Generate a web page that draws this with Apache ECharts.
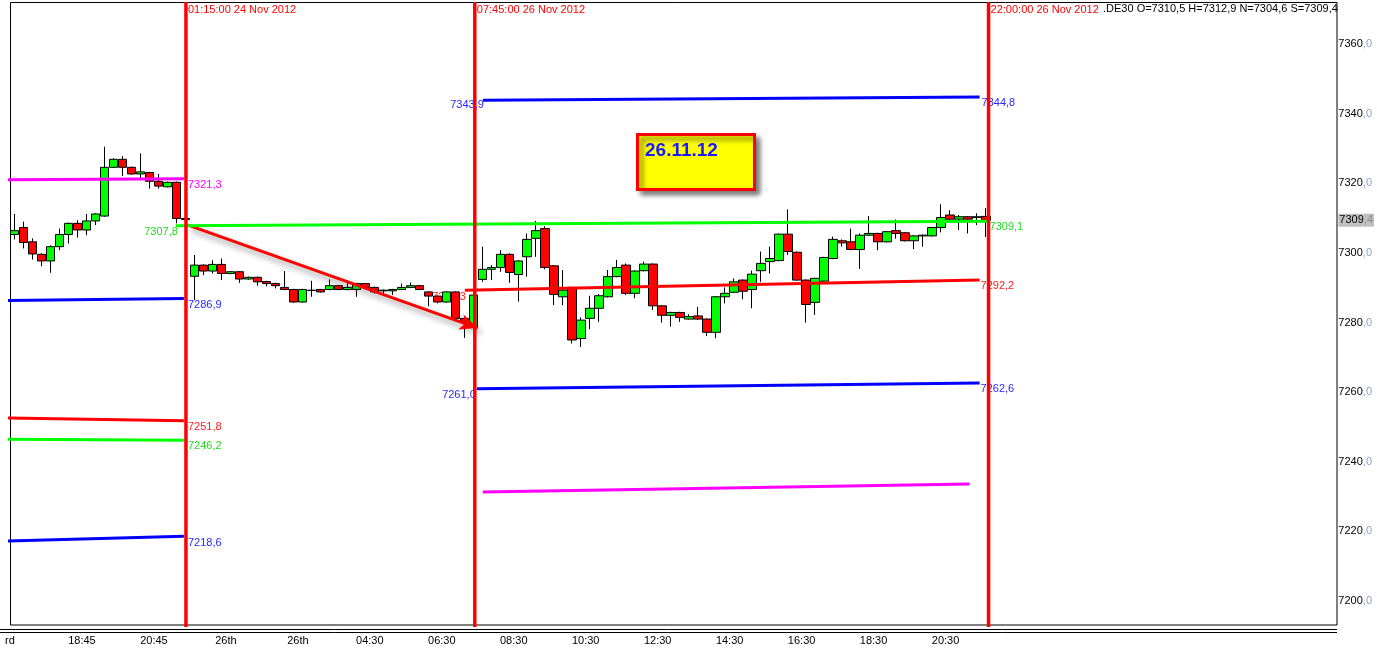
<!DOCTYPE html>
<html><head><meta charset="utf-8">
<script src="https://cdn.jsdelivr.net/npm/echarts@6/dist/echarts.min.js"></script>
<style>html,body{margin:0;padding:0;background:#fff}#c{width:1377px;height:649px}</style>
</head><body><div id="c"></div>
<script>
// ---- candle data (15 min bars), one entry per slot ----
const opens  = [7305.3,7307.3,7303.2,7299.6,7297.7,7301.8,7305.3,7308.5,7306.6,7309.2,7310.6,7324.6,7326.9,7324.6,7322.7,7323.1,7320.6,7319.0,7320.3,7309.9,
 7293.3,7296.5,7294.8,7296.7,7294.1,7294.6,7292.5,7293.0,7291.8,7291.2,7290.1,7289.5,7285.9,7289.3,7289.5,7289.5,7290.6,7289.5,7289.5,7291.2,
 7290.1,7289.1,7289.1,7289.5,7290.1,7290.6,7288.8,7287.6,7285.9,7288.8,7281.2,7278.8,7292.4,7295.3,7295.8,7299.6,7293.8,7298.9,7304.2,7307.0,
 7296.3,7287.4,7290.1,7275.4,7281.2,7284.1,7287.4,7293.2,7296.5,7288.4,7294.9,7296.8,7284.8,7282.1,7282.9,7281.0,7281.9,7281.0,7277.2,7287.4,
 7288.7,7292.2,7289.5,7294.9,7297.5,7297.8,7305.4,7300.2,7292.2,7285.8,7291.9,7298.4,7303.5,7303.2,7301.0,7305.1,7305.6,7303.2,7306.4,7305.8,
 7303.5,7304.9,7304.9,7307.3,7310.9,7309.7,7310.4,7310.2,7310.5];
const closes = [7306.4,7303.0,7299.7,7297.7,7301.8,7305.3,7308.5,7306.6,7309.2,7311.2,7324.6,7326.9,7324.6,7322.7,7323.3,7320.6,7319.2,7320.3,7309.9,7309.6,
 7296.5,7294.8,7296.7,7294.1,7294.6,7292.5,7293.0,7291.7,7291.2,7290.6,7289.5,7285.9,7289.5,7289.2,7288.8,7290.6,7289.5,7290.1,7291.2,7290.1,
 7288.8,7289.3,7289.5,7290.1,7290.6,7289.5,7287.6,7285.9,7288.8,7281.2,7280.2,7287.9,7295.3,7295.8,7299.6,7294.4,7297.7,7303.9,7306.4,7295.8,
 7288.1,7289.3,7275.0,7280.7,7284.1,7287.7,7293.2,7295.8,7288.4,7294.8,7296.8,7284.8,7282.1,7282.9,7281.5,7281.7,7281.0,7277.2,7287.4,7288.4,
 7291.7,7289.0,7293.9,7297.0,7298.4,7305.4,7300.4,7292.2,7285.2,7292.7,7298.7,7303.9,7302.9,7301.0,7305.1,7305.6,7303.2,7306.1,7305.6,7303.5,
 7304.9,7305.1,7307.3,7310.2,7309.7,7310.4,7309.7,7310.4,7309.4];
const lows   = [7303.9,7301.3,7298.1,7296.2,7294.3,7300.8,7302.7,7304.4,7305.1,7308.0,7310.4,7324.4,7322.1,7322.5,7320.9,7318.5,7318.5,7318.8,7308.5,7309.0,
 7286.5,7293.6,7294.1,7292.2,7293.9,7291.4,7292.3,7290.6,7290.4,7289.8,7289.3,7285.7,7285.7,7287.4,7288.6,7289.3,7289.3,7289.3,7287.4,7289.9,
 7288.3,7288.3,7287.9,7289.3,7289.9,7289.3,7284.7,7285.5,7285.7,7280.7,7275.6,7278.6,7291.7,7292.2,7294.6,7291.4,7286.0,7293.2,7298.9,7295.3,
 7285.0,7285.0,7274.0,7273.0,7278.1,7280.2,7287.2,7293.0,7287.9,7287.0,7294.7,7283.6,7280.0,7278.8,7280.2,7280.8,7280.7,7276.1,7275.5,7285.5,
 7288.5,7286.7,7284.1,7291.7,7294.1,7297.6,7299.4,7292.0,7280.0,7282.2,7291.7,7298.2,7301.8,7300.8,7295.4,7304.9,7300.8,7303.0,7304.1,7303.3,
 7301.1,7301.8,7304.7,7305.9,7309.5,7306.6,7305.6,7308.0,7304.6];
const highs  = [7311.2,7309.0,7304.2,7299.9,7302.2,7307.0,7308.7,7309.4,7311.2,7311.4,7330.5,7327.2,7327.8,7324.8,7328.6,7323.3,7322.7,7320.5,7320.5,7310.2,
 7299.4,7296.7,7297.9,7298.4,7294.8,7294.8,7293.2,7293.2,7292.0,7291.4,7294.8,7289.7,7289.7,7292.0,7289.7,7292.4,7290.8,7292.2,7291.4,7291.4,
 7290.3,7289.5,7289.7,7291.2,7291.5,7290.8,7289.0,7287.8,7289.0,7289.0,7281.4,7288.1,7301.8,7296.5,7300.8,7299.9,7297.9,7305.6,7309.2,7307.7,
 7296.5,7295.1,7290.3,7281.5,7287.7,7288.2,7295.1,7298.0,7297.0,7295.0,7297.5,7297.0,7285.0,7283.1,7283.1,7282.4,7284.5,7281.2,7287.6,7290.1,
 7292.7,7292.4,7294.9,7300.4,7301.8,7305.6,7312.5,7300.4,7292.4,7292.9,7298.9,7304.7,7303.9,7307.0,7305.6,7310.6,7305.8,7306.3,7309.6,7306.0,
 7305.1,7305.3,7307.5,7314.0,7312.3,7310.9,7310.6,7311.4,7312.9];
const slotCount = 147;
const symbolName = '.DE30';

// ---- axis ticks ----
const xTickLabels = ['rd','18:45','20:45','26th','26th','04:30','06:30','08:30','10:30','12:30','14:30','16:30','18:30','20:30'];
const yTickValues = [7200,7220,7240,7260,7280,7300,7320,7340,7360];
const yRange = [7193.1, 7372.1];

// ---- level lines [slotFrom, valueFrom, slotTo, valueTo] ----
const magentaLeft   = [-0.72, 7321.0, 18.83, 7321.3];
const blueLeft      = [-0.72, 7286.3, 18.83, 7286.9];
const redLeft       = [-0.72, 7252.6, 18.83, 7251.8];
const greenLeft     = [-0.72, 7246.5, 18.83, 7246.2];
const blueLowLeft   = [-0.72, 7217.2, 18.83, 7218.6];
const greenMain     = [17.94, 7307.8, 108.17, 7309.1];
const blueTopRight  = [52.06, 7343.9, 107.28, 7344.8];
const redRight      = [50.06, 7289.3, 107.28, 7292.2];
const blueLowRight  = [51.39, 7261.0, 107.28, 7262.6];
const magentaRight  = [52.06, 7231.3, 106.17, 7233.6];
// trend arrow [slotFrom, valueFrom, slotTo, valueTo]
const trendArrow    = [19.3, 7308.0, 51.5, 7278.4];
// session marks (vertical lines) and their titles
const sessionSlots  = [19.06, 51.17, 108.28];
const sessionTitles = ['01:15:00 24 Nov 2012','07:45:00 26 Nov 2012','22:00:00 26 Nov 2012'];
// value labels [slot, value]
const valueLabelsTop = [[19.06,7321.3],[19.06,7286.9],[19.06,7251.8],[19.06,7246.2],[19.06,7218.6],
  [17.94,7307.8],[52.06,7343.9],[51.39,7261.0],[107.28,7344.8],[108.17,7309.1],[107.28,7292.2],[107.28,7262.6]];
const valueLabelsUnder = [[50.06,7289.3]];
const boxNote = '26.11.12';

// ---- styles ----
const FONT = '"Liberation Sans", Arial, sans-serif';
const C = {blue:'#0000ff', red:'#ff0000', green:'#00ff00', magenta:'#ff00ff'};
const labelStyleTop = [
  {c:'#ff00ff',dx:2,dy:6,a:'left'},{c:'#2828ff',dx:2,dy:6.5,a:'left'},{c:'#ff2020',dx:2,dy:6.5,a:'left'},
  {c:'#22dd22',dx:2,dy:6,a:'left'},{c:'#2828ff',dx:2,dy:7,a:'left'},{c:'#22dd22',dx:2,dy:6.5,a:'right'},
  {c:'#2828ff',dx:1,dy:5,a:'right'},{c:'#2828ff',dx:-1,dy:6.5,a:'right'},{c:'#2828ff',dx:2,dy:6,a:'left'},
  {c:'#22dd22',dx:2,dy:6,a:'left'},{c:'#ff2020',dx:1,dy:6,a:'left'},{c:'#2828ff',dx:1,dy:6,a:'left'}];
const labelStyleUnder = [{c:'#ff2020',dx:1,dy:7,a:'right'}];

const fmt = v => v.toFixed(1).replace('.', ',');
const last = opens.length - 1;

function seg(arr, color, z) {
  return {type:'line', xAxisIndex:1, yAxisIndex:0, data:[[arr[0],arr[1]],[arr[2],arr[3]]],
    symbol:'none', clip:false, silent:true, z:z, lineStyle:{color:color, width:3}};
}
function textSeries(points, styles, z) {
  return {type:'custom', xAxisIndex:1, yAxisIndex:0, data:points, z:z, silent:true, clip:false,
    renderItem:function(params, api){
      const p = api.coord([api.value(0), api.value(1)]);
      const s = styles[params.dataIndex];
      return {type:'text', x:p[0]+s.dx, y:p[1]+s.dy,
        style:{text:fmt(points[params.dataIndex][1]), fill:s.c, font:'11px '+FONT, align:s.a, verticalAlign:'middle'}};
    }};
}

const chart = echarts.init(document.getElementById('c'));
const series = [
  {type:'candlestick', xAxisIndex:0, yAxisIndex:0, z:3, silent:true, barWidth:9,
    data: opens.map((o,i)=>[o, closes[i], lows[i], highs[i]]),
    itemStyle:{color:'#00ff00', color0:'#ff0000', borderColor:'#000', borderColor0:'#000', borderWidth:1}},
  textSeries(valueLabelsUnder, labelStyleUnder, 2),
  seg(magentaLeft, C.magenta, 5), seg(blueLeft, C.blue, 5), seg(redLeft, C.red, 5),
  seg(greenLeft, C.green, 5), seg(blueLowLeft, C.blue, 5),
  Object.assign(seg(greenMain, C.green, 5), {markLine:{silent:true, symbol:['none','arrow'], symbolSize:[12,18],
    label:{show:false}, animation:false,
    lineStyle:{color:'#ff0000', width:3, type:'solid', shadowBlur:6, shadowColor:'rgba(0,0,0,0.45)', shadowOffsetX:3, shadowOffsetY:4},
    data:[[{coord:[trendArrow[0],trendArrow[1]]},{coord:[trendArrow[2],trendArrow[3]]}]]}}),
  seg(blueTopRight, C.blue, 5), seg(redRight, C.red, 5), seg(blueLowRight, C.blue, 5), seg(magentaRight, C.magenta, 5),
  textSeries(valueLabelsTop, labelStyleTop, 6),
];
sessionSlots.forEach((s, k) => {
  series.push({type:'line', xAxisIndex:1, yAxisIndex:0, data:[[s, yRange[0]-0.6],[s, yRange[1]]], symbol:'none',
    clip:false, silent:true, z:10, lineStyle:{color:'#ff0000', width:3.5}});
});
series.push({type:'custom', xAxisIndex:1, yAxisIndex:0, z:11, silent:true, clip:false,
  data: sessionSlots.map(s => [s, yRange[1]]),
  renderItem:function(params, api){
    const p = api.coord([api.value(0), api.value(1)]);
    return {type:'text', x:p[0]+2, y:p[1]+7.5, style:{text:sessionTitles[params.dataIndex], fill:'#ff0000',
      font:'11px '+FONT, align:'left', verticalAlign:'middle'}};
  }});

chart.setOption({
  animation:false,
  textStyle:{fontFamily:FONT},
  grid:{left:10, top:2, width:slotCount*9, height:623, containLabel:false},
  xAxis:[
    {type:'category', data:Array.from({length:slotCount}, (_, i) => i), boundaryGap:true, show:false},
    {type:'value', min:-0.5, max:slotCount-0.5, position:'bottom',
      axisLine:{show:false}, axisTick:{show:false}, splitLine:{show:false},
      axisLabel:{customValues:xTickLabels.map((_, k) => -0.5 + 8*k), margin:10, color:'#000', fontSize:11, fontFamily:FONT,
        formatter:v => xTickLabels[Math.round((v + 0.5)/8)] || ''}}
  ],
  yAxis:{type:'value', position:'right', min:yRange[0], max:yRange[1], scale:true,
    axisLine:{show:false}, axisTick:{show:false}, splitLine:{show:false},
    axisLabel:{customValues:yTickValues.concat([closes[last]]), margin:6, fontSize:11, fontFamily:FONT,
      formatter:v => {
        const s = v.toFixed(1).split('.');
        if (Math.abs(v - closes[last]) < 1e-6) return '{p|' + s[0] + '}{pd|,' + s[1] + '}';
        return '{a|' + s[0] + '}{b|,' + s[1] + '}';
      },
      rich:{a:{color:'#000', fontSize:11, fontFamily:FONT}, b:{color:'#86a3c9', fontSize:11, fontFamily:FONT},
        p:{color:'#000', fontSize:11, fontFamily:FONT, backgroundColor:'#c0c0c0', padding:[1,0,1,1]},
        pd:{color:'#8a8a8a', fontSize:11, fontFamily:FONT, backgroundColor:'#c0c0c0', padding:[1,1,1,0]}}}},
  series:series,
  graphic:[
    {type:'rect', z:1, silent:true, shape:{x:10.5, y:2.5, width:1326.5, height:622.5}, style:{fill:'none', stroke:'#000', lineWidth:1}},
    {type:'line', z:1, silent:true, shape:{x1:0, y1:629.5, x2:1337, y2:629.5}, style:{stroke:'#000', lineWidth:1}},
    {type:'line', z:1, silent:true, shape:{x1:0, y1:632.5, x2:1337, y2:632.5}, style:{stroke:'#000', lineWidth:1}},
    {type:'text', z:12, silent:true, x:1103, y:9,
      style:{text:symbolName + ' O=' + fmt(opens[last]) + ' H=' + fmt(highs[last]) + ' N=' + fmt(lows[last]) + ' S=' + fmt(closes[last]),
        fill:'#000', font:'11px ' + FONT, align:'left', verticalAlign:'middle'}},
    {type:'rect', z:12, silent:true, shape:{x:637.5, y:134.5, width:117, height:55},
      style:{fill:'#ffff00', stroke:'#ff0000', lineWidth:3, shadowBlur:5, shadowColor:'rgba(0,0,0,0.5)', shadowOffsetX:4, shadowOffsetY:4}},
    {type:'text', z:13, silent:true, x:645, y:151,
      style:{text:boxNote, fill:'#1a1aff', font:'bold 19px ' + FONT, align:'left', verticalAlign:'middle'}}
  ]
});
</script></body></html>
